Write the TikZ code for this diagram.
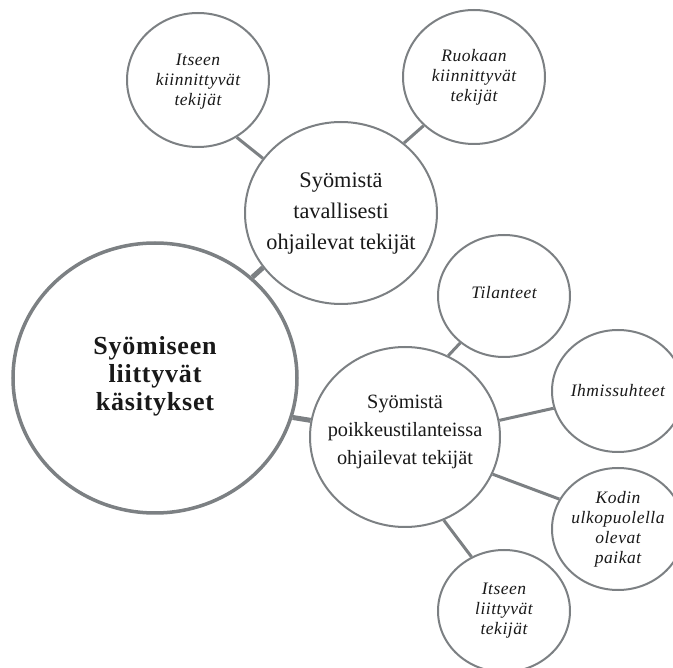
\documentclass[tikz,border=0pt]{standalone}
\usepackage{fontspec}
\setmainfont{Liberation Serif}
\newfontfamily\headfont[LetterSpace=3]{Liberation Serif}
\newfontfamily\leaffont[LetterSpace=3]{Liberation Serif}
\usetikzlibrary{shapes.geometric}
\definecolor{linegray}{RGB}{124,128,131}
\definecolor{inkblack}{RGB}{25,25,25}
\begin{document}
\begin{tikzpicture}[x=1pt,y=-1pt,
  % the outline size is set by the minimum sizes alone, not by the text
  bubble/.style={ellipse, draw=linegray, line width=2pt, fill=white,
    inner sep=-60pt, align=center, text=inkblack},
  hub/.style={bubble, line width=3.5pt,
    font=\headfont\bfseries\fontsize{26}{28}\selectfont},
  upper mid/.style={bubble, font=\fontsize{22.3}{31}\selectfont},
  lower mid/.style={bubble, font=\fontsize{20.3}{28}\selectfont},
  leaf/.style={bubble, font=\leaffont\itshape\fontsize{17.5}{20}\selectfont},
  thick link/.style={draw=linegray, line width=5pt},
  thin link/.style={draw=linegray, line width=3pt}]
\useasboundingbox (0,0) rectangle (673,668);
\clip (0,0) rectangle (673,668);

% central concept
\node[hub, minimum width=284pt, minimum height=270pt, text depth=10pt]
  (core) at (155,378) {Syömiseen\\liittyvät\\käsitykset};

% two main branches
\node[upper mid, minimum width=192pt, minimum height=182pt] (usual) at (341,213)
  {Syömistä\\tavallisesti\\ohjailevat tekijät};
\node[lower mid, minimum width=190pt, minimum height=180pt, text depth=14pt]
  (special) at (405,437) {Syömistä\\poikkeustilanteissa\\ohjailevat tekijät};

% leaves of the upper branch
\node[leaf, minimum width=142pt, minimum height=134pt, text depth=1pt]
  (self1) at (198,80) {Itseen\\kiinnittyvät\\tekijät};
\node[leaf, minimum width=142pt, minimum height=134pt] (food) at (474,77)
  {Ruokaan\\kiinnittyvät\\tekijät};

% leaves of the lower branch
\node[leaf, minimum width=132pt, minimum height=122pt, text depth=8pt]
  (situ) at (504,296) {Tilanteet};
\node[leaf, minimum width=132pt, minimum height=122pt] (rel) at (618,391)
  {Ihmissuhteet};
\node[leaf, minimum width=132pt, minimum height=122pt] (places) at (618,529)
  {Kodin\\ulkopuolella\\olevat\\paikat};
\node[leaf, minimum width=132pt, minimum height=122pt] (self2) at (504,611)
  {Itseen\\liittyvät\\tekijät};

% connectors
\draw[thick link] (core.46) -- (usual.215);
\draw[thick link] (core.-16) -- (special.170);
\draw[thin link] (self1.-56) -- (usual.145);
\draw[thin link] (usual.48) -- (food.224);
\draw[thin link] (special.62) -- (situ.-133);
\draw[thin link] (special.10) -- (rel.-165);
\draw[thin link] (special.-23) -- (places.153);
\draw[thin link] (special.-65) -- (self2.121);
\end{tikzpicture}
\end{document}
